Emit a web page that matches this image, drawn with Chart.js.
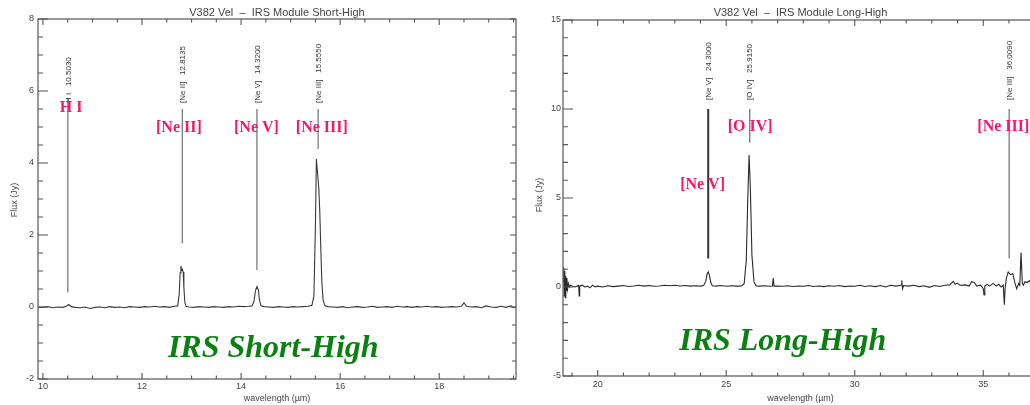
<!DOCTYPE html>
<html>
<head>
<meta charset="utf-8">
<script src="https://cdn.jsdelivr.net/npm/chart.js@4/dist/chart.umd.min.js"></script>
<style>
html,body{margin:0;padding:0;background:#fff;overflow:hidden;width:1030px;height:405px;}
#wrap{position:relative;width:1030px;height:405px;overflow:hidden;}
#c1{position:absolute;left:0;top:0;}
#c2{position:absolute;left:520px;top:0;}
</style>
</head>
<body>
<div id="wrap">
<canvas id="c1" width="520" height="405"></canvas>
<canvas id="c2" width="525" height="405"></canvas>
</div>
<script>
// ---------------- DATA ----------------
// Short-High spectrum (wavelength in micron, flux in Jy)
const shWave = [9.90,10.00,10.10,10.20,10.30,10.40,10.47,10.52,10.57,10.65,10.75,10.85,10.95,11.05,11.15,11.25,11.35,11.45,11.55,11.65,11.75,11.85,11.95,12.05,12.15,12.25,12.35,12.45,12.55,12.65,12.72,12.75,12.77,12.785,12.80,12.815,12.83,12.845,12.865,12.89,12.95,13.05,13.15,13.25,13.35,13.45,13.55,13.65,13.75,13.85,13.95,14.05,14.15,14.22,14.26,14.29,14.32,14.35,14.37,14.40,14.46,14.55,14.65,14.75,14.85,14.95,15.05,15.15,15.25,15.35,15.43,15.47,15.50,15.52,15.545,15.57,15.59,15.61,15.63,15.655,15.69,15.75,15.85,15.95,16.05,16.15,16.25,16.35,16.45,16.55,16.65,16.75,16.85,16.95,17.05,17.15,17.25,17.35,17.45,17.55,17.65,17.75,17.85,17.95,18.05,18.15,18.25,18.35,18.45,18.50,18.55,18.65,18.75,18.85,18.95,19.05,19.15,19.25,19.35,19.45,19.50,19.55];
const shFlux = [0.00,-0.01,0.01,-0.02,0.00,-0.01,0.02,0.07,0.01,-0.01,-0.02,0.00,-0.04,-0.01,0.00,-0.02,0.01,-0.01,0.00,-0.02,0.01,0.00,-0.01,0.01,0.00,0.02,0.00,0.01,-0.01,0.02,0.03,0.35,0.95,1.14,1.02,1.05,0.97,0.55,0.12,0.02,0.00,-0.01,0.01,0.00,-0.01,0.01,0.00,-0.01,0.01,0.00,0.02,0.01,0.02,0.03,0.15,0.45,0.57,0.47,0.20,0.04,0.01,0.00,-0.01,0.01,0.00,-0.01,0.01,0.00,0.01,0.02,0.05,0.30,2.20,4.11,3.70,3.28,2.60,1.60,0.70,0.20,0.04,0.01,0.00,-0.01,0.01,-0.02,0.00,0.01,-0.01,0.00,0.02,-0.01,0.00,0.01,-0.01,0.02,0.00,0.01,-0.01,0.01,0.00,0.02,0.00,0.01,-0.01,0.00,0.01,0.00,0.02,0.12,0.02,0.00,0.01,-0.02,0.03,0.00,-0.01,0.02,-0.01,0.03,-0.02,0.01];

// Long-High spectrum
const lhWave = [18.65,18.68,18.70,18.72,18.74,18.76,18.78,18.80,18.83,18.86,18.90,18.95,19.00,19.10,19.20,19.26,19.28,19.30,19.40,19.50,19.60,19.70,19.80,19.90,20.00,20.2,20.4,20.6,20.8,21.0,21.2,21.4,21.6,21.8,22.0,22.2,22.4,22.6,22.8,23.0,23.2,23.4,23.6,23.8,24.0,24.12,24.2,24.26,24.3,24.34,24.4,24.46,24.6,24.8,25.0,25.2,25.4,25.6,25.7,25.78,25.84,25.89,25.94,26.0,26.08,26.16,26.3,26.5,26.7,26.8,26.83,26.86,27.0,27.2,27.4,27.6,27.8,28.0,28.2,28.4,28.6,28.8,29.0,29.2,29.4,29.6,29.8,30.0,30.2,30.4,30.6,30.8,31.0,31.2,31.4,31.6,31.8,31.83,31.86,31.9,32.1,32.3,32.5,32.7,32.9,33.1,33.3,33.5,33.7,33.83,33.9,33.98,34.1,34.3,34.45,34.55,34.65,34.75,34.9,35.0,35.03,35.06,35.15,35.25,35.38,35.5,35.6,35.7,35.78,35.82,35.85,35.9,35.97,36.05,36.15,36.22,36.3,36.38,36.42,36.47,36.52,36.56,36.62,36.7,36.8,36.9,37.0,37.1];
const lhFlux = [0.3,1.1,-0.5,0.9,-0.6,0.6,-0.2,0.5,-0.1,0.2,0.0,0.1,0.05,0.0,0.05,0.08,-0.5,0.05,0.1,0.0,0.05,-0.05,0.1,0.0,0.05,0.0,0.07,0.02,0.05,0.08,0.03,0.06,0.1,0.05,0.08,0.04,0.06,0.1,0.07,0.1,0.06,0.08,0.05,0.07,0.05,0.08,0.3,0.75,0.85,0.7,0.25,0.07,0.05,0.08,0.04,0.07,0.05,0.06,0.2,1.5,5.0,7.42,5.5,1.8,0.3,0.06,0.05,0.07,0.04,0.06,0.5,0.05,0.06,0.04,0.07,0.03,0.06,0.04,0.08,0.03,0.06,0.02,0.07,0.04,0.08,0.02,0.06,0.04,0.1,0.03,0.07,0.02,0.08,0.0,0.1,0.05,0.1,0.37,-0.1,0.08,0.05,0.1,0.02,0.07,-0.02,0.08,0.03,0.1,0.12,0.32,0.15,0.22,0.1,0.12,0.05,0.3,0.25,0.05,0.1,-0.1,-0.45,0.05,0.15,0.05,0.2,0.05,0.15,0.0,0.1,-1.0,-0.1,0.5,0.85,0.7,0.75,0.3,-0.1,0.2,0.1,1.93,0.2,0.1,0.3,0.25,0.35,0.2,0.3,0.25];

// Line identifications (markers)
const shLineWave  = [10.5030, 12.8135, 14.3200, 15.5550];
const shLineIon   = ['H I', '[Ne II]', '[Ne V]', '[Ne III]'];
const shLineTop   = [5.8, 5.5, 5.5, 5.5];
const shLineBot   = [0.4, 1.77, 1.03, 4.39];
const shLabels    = ['H I', '[Ne II]', '[Ne V]', '[Ne III]'];

const lhLineWave  = [24.3000, 25.9150, 36.0090];
const lhLineIon   = ['[Ne V]', '[O IV]', '[Ne III]'];
const lhLineTop   = [10.0, 10.0, 10.0];
const lhLineBot   = [1.6, 8.1, 1.6];
const lhLabels    = ['[Ne V]', '[O IV]', '[Ne III]'];

// Tick labels
const shXTicks = [10, 12, 14, 16, 18];
const shYTicks = [-2, 0, 2, 4, 6, 8];
const lhXTicks = [20, 25, 30, 35];
const lhYTicks = [-5, 0, 5, 10, 15];

const shTitle = 'V382 Vel  \u2013  IRS Module Short-High';
const lhTitle = 'V382 Vel  \u2013  IRS Module Long-High';
const xTitle = 'wavelength (\u00b5m)';
const yTitle = 'Flux (Jy)';
const shBigLabel = 'IRS Short-High';
const lhBigLabel = 'IRS Long-High';

// ---------------- HELPERS ----------------
const PINK = '#f7186c';
const GREEN = '#0a7f12';
const AXC = '#555';

function pts(xs, ys){ return xs.map((x,i)=>({x:x, y:ys[i]})); }

function markerSets(waves, tops, bots, styles){
  return waves.map((w,i)=>({
    data:[{x:w,y:tops[i]},{x:w,y:bots[i]}],
    showLine:true, pointRadius:0, borderColor:styles[i].c, borderWidth:styles[i].w, tension:0
  }));
}

function makePlugin(cfg){
  return {
    id:'decor',
    afterDraw(chart){
      const ctx = chart.ctx, a = chart.chartArea;
      const xs = chart.scales.x, ys = chart.scales.y;
      ctx.save();
      // frame
      ctx.strokeStyle = AXC; ctx.lineWidth = 1.2;
      ctx.strokeRect(a.left, a.top, a.right - a.left, a.bottom - a.top);
      // ticks
      ctx.lineWidth = 1.1;
      ctx.beginPath();
      for (let v = Math.ceil(xs.min / cfg.xMinor) * cfg.xMinor; v <= xs.max + 1e-9; v += cfg.xMinor) {
        const px = xs.getPixelForValue(v);
        const major = cfg.xMajor.some(t => Math.abs(t - v) < 1e-6);
        const L = major ? 6 : 3.5;
        ctx.moveTo(px, a.bottom); ctx.lineTo(px, a.bottom - L);
        ctx.moveTo(px, a.top); ctx.lineTo(px, a.top + L);
      }
      for (let v = Math.ceil(ys.min / cfg.yMinor) * cfg.yMinor; v <= ys.max + 1e-9; v += cfg.yMinor) {
        const py = ys.getPixelForValue(v);
        const major = cfg.yMajor.some(t => Math.abs(t - v) < 1e-6);
        ctx.moveTo(a.left, py); ctx.lineTo(a.left + (major ? 10 : 5), py);
        ctx.moveTo(a.right, py); ctx.lineTo(a.right - (major ? 6 : 4), py);
      }
      ctx.stroke();
      // title
      ctx.fillStyle = '#444';
      ctx.font = '11px "Liberation Sans", sans-serif';
      ctx.textAlign = 'center'; ctx.textBaseline = 'middle';
      ctx.fillText(cfg.title, (a.left + cfg.titleRight) / 2, 12.5);
      // axis titles
      ctx.font = '9px "Liberation Sans", sans-serif';
      ctx.fillText(xTitle, (a.left + cfg.titleRight) / 2, 399);
      ctx.save();
      ctx.translate(cfg.yTitleX, cfg.yTitleY);
      ctx.rotate(-Math.PI / 2);
      ctx.fillText(yTitle, 0, 0);
      ctx.restore();
      // rotated line IDs
      ctx.font = '8px "Liberation Sans", sans-serif';
      ctx.fillStyle = '#333';
      cfg.ids.forEach((id, i) => {
        const px = xs.getPixelForValue(cfg.idWave[i]);
        ctx.save();
        ctx.translate(px + 0.5, cfg.idBottom);
        ctx.rotate(-Math.PI / 2);
        ctx.textAlign = 'left'; ctx.textBaseline = 'middle';
        ctx.fillText(id + '   ' + cfg.idWave[i].toFixed(4), 0, 0);
        ctx.restore();
      });
      // pink labels
      ctx.font = 'bold 16px "Liberation Serif", serif';
      ctx.fillStyle = PINK;
      ctx.textAlign = 'center'; ctx.textBaseline = 'middle';
      cfg.pink.forEach(p => {
        ctx.fillText(p.t, xs.getPixelForValue(p.x), ys.getPixelForValue(p.y));
      });
      // green label
      ctx.font = 'italic bold 32px "Liberation Serif", serif';
      ctx.fillStyle = GREEN;
      ctx.textBaseline = 'alphabetic';
      ctx.fillText(cfg.big.t, xs.getPixelForValue(cfg.big.x), ys.getPixelForValue(cfg.big.y));
      ctx.restore();
    }
  };
}

function axisOpts(min, max, ticks, fit, pad){
  return {
    type:'linear', min:min, max:max,
    grid:{display:false, drawTicks:false},
    border:{display:false},
    afterBuildTicks(s){ s.ticks = ticks.map(v=>({value:v})); },
    afterFit(s){ if (fit.h !== undefined) s.height = fit.h; if (fit.w !== undefined) s.width = fit.w; },
    ticks:{color:'#444', font:{size:9, family:'"Liberation Sans", sans-serif'}, padding:pad, maxRotation:0, autoSkip:false}
  };
}

// ---------------- CHART 1 ----------------
const sh = new Chart(document.getElementById('c1'), {
  type:'scatter',
  data:{ datasets:[
    {data:pts(shWave, shFlux), showLine:true, pointRadius:0, borderColor:'#3a3a3a', borderWidth:1.1, tension:0},
    ...markerSets(shLineWave, shLineTop, shLineBot, shLineWave.map(()=>({c:'#7a7a7a', w:1.3})))
  ]},
  options:{
    responsive:false, animation:false, devicePixelRatio:1,
    layout:{padding:{left:0, top:19, right:4, bottom:0}},
    plugins:{legend:{display:false}, tooltip:{enabled:false}, title:{display:false}},
    scales:{
      x: axisOpts(9.9, 19.55, shXTicks, {h:26}, 2),
      y: axisOpts(-2, 8, shYTicks, {w:38}, 4)
    }
  },
  plugins:[makePlugin({
    xMinor:0.5, yMinor:0.5, xMajor:shXTicks, yMajor:shYTicks,
    title:shTitle, titleRight:516, yTitleX:15, yTitleY:200,
    ids:shLineIon, idWave:shLineWave, idBottom:103,
    pink:[{t:shLabels[0], x:10.57, y:5.52},{t:shLabels[1], x:12.745, y:4.98},{t:shLabels[2], x:14.31, y:4.98},{t:shLabels[3], x:15.63, y:4.98}],
    big:{t:shBigLabel, x:14.65, y:-1.4}
  })]
});

// ---------------- CHART 2 ----------------
const lh = new Chart(document.getElementById('c2'), {
  type:'scatter',
  data:{ datasets:[
    {data:pts(lhWave, lhFlux), showLine:true, pointRadius:0, borderColor:'#2a2a2a', borderWidth:1.1, tension:0},
    ...markerSets(lhLineWave, lhLineTop, lhLineBot, [{c:'#333', w:2},{c:'#777', w:1.3},{c:'#777', w:1.3}])
  ]},
  options:{
    responsive:false, animation:false, devicePixelRatio:1,
    layout:{padding:{left:0, top:20, right:7, bottom:0}},
    plugins:{legend:{display:false}, tooltip:{enabled:false}, title:{display:false}},
    scales:{
      x: axisOpts(18.65, 37.13, lhXTicks, {h:29}, 3),
      y: axisOpts(-5, 15, lhYTicks, {w:43}, 2)
    }
  },
  plugins:[makePlugin({
    xMinor:1, yMinor:1, xMajor:lhXTicks, yMajor:lhYTicks,
    title:lhTitle, titleRight:518, yTitleX:20, yTitleY:195,
    ids:lhLineIon, idWave:lhLineWave, idBottom:100,
    pink:[{t:lhLabels[0], x:24.08, y:5.73},{t:lhLabels[1], x:25.93, y:9.0},{t:lhLabels[2], x:35.78, y:9.0}],
    big:{t:lhBigLabel, x:27.2, y:-3.53}
  })]
});
</script>
</body>
</html>
